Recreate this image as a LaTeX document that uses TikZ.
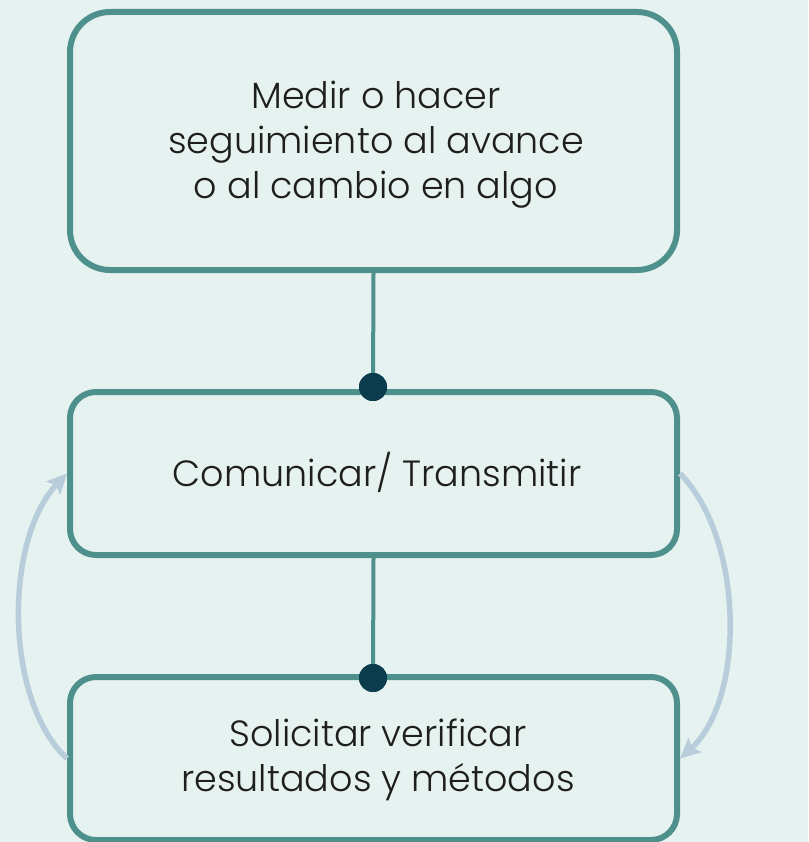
\documentclass[tikz,border=0pt]{standalone}
\usepackage{fontspec}
\setmainfont{Poppins}[UprightFont=* Light]
\usetikzlibrary{arrows.meta}
\definecolor{bgc}{HTML}{E6F2EF}
\definecolor{teal}{HTML}{4E908B}
\definecolor{dotc}{HTML}{0B3C4E}
\definecolor{arrc}{HTML}{B7CDDB}
\definecolor{txt}{HTML}{1E1E1E}
\tikzset{
  box/.style={draw=teal, line width=6pt, fill=none, minimum width=607pt, inner sep=0pt},
  label/.style={text=txt, align=center, font=\fontsize{36.5pt}{45pt}\selectfont, inner sep=0pt},
  conn/.style={draw=teal, line width=4pt},
  dotnode/.style={circle, fill=dotc, minimum size=28pt, inner sep=0pt},
  loop/.style={draw=arrc, line width=5.5pt, -{Stealth[length=20pt,width=19pt,inset=4pt]}}
}
\begin{document}
\begin{tikzpicture}[x=1pt,y=-1pt]
\fill[bgc] (0,0) rectangle (808,842);
\useasboundingbox (0,0) rectangle (808,842);
\node[box, minimum height=258pt, rounded corners=40pt] (b1) at (373.5,141) {};
\node[label] (t1) at (376,145) {Medir o hacer\\seguimiento al avance\\o al cambio en algo};
\node[box, minimum height=163pt, rounded corners=26pt] (b2) at (373.5,473.5) {};
\node[label] (t2) at (377,472) {Comunicar/ Transmitir};
\node[box, minimum height=163pt, rounded corners=26pt] (b3) at (373.5,758.5) {};
\node[label] (t3) at (378,760) {Solicitar verificar\\resultados y métodos};
\node[dotnode] (d1) at (373,387) {};
\node[dotnode] (d2) at (373,678) {};
\draw[conn] (b1.south) -- (d1.center);
\draw[conn] (b2.south) -- (d2.center);
\node[dotnode] at (d1) {};
\node[dotnode] at (d2) {};
\draw[loop] (b3.west) .. controls (4,700) and (4,540) .. (b2.west);
\draw[loop] (b2.east) .. controls (745,540) and (745,700) .. (b3.east);
\end{tikzpicture}
\end{document}
